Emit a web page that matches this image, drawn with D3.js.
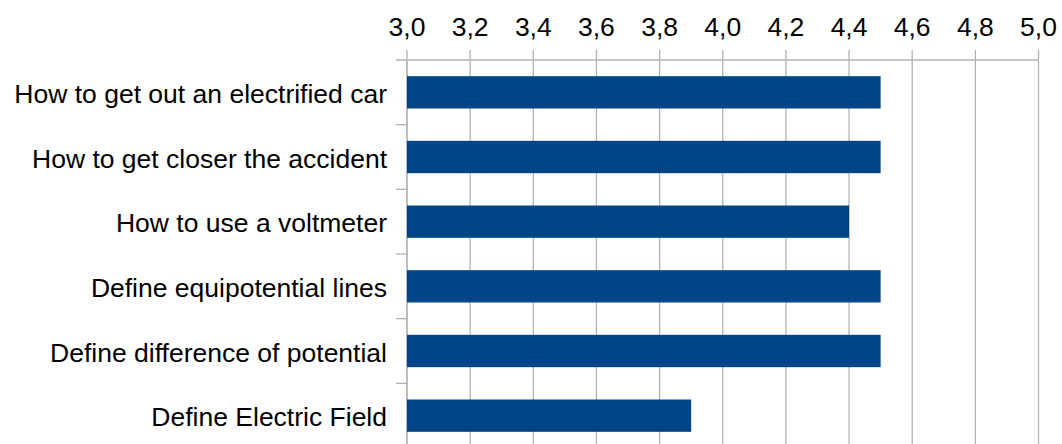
<!DOCTYPE html>
<html><head><meta charset="utf-8">
<script src="https://cdn.jsdelivr.net/npm/d3@7"></script>
<style>body{margin:0;background:#fff}svg{display:block}text{font-family:"Liberation Sans",Arial,sans-serif;fill:#000}</style>
</head><body>
<svg id="c" width="1062" height="444"></svg>
<script>
const categories = ["How to get out an electrified car","How to get closer the accident","How to use a voltmeter","Define equipotential lines","Define difference of potential","Define Electric Field"];
const values = [4.5, 4.5, 4.4, 4.5, 4.5, 3.9];
const tickValues = [3.0,3.2,3.4,3.6,3.8,4.0,4.2,4.4,4.6,4.8,5.0];

(function(){
const svg = d3.select("#c");
const pL = 407, pR = 1038.5, pT = 60, pB = 448;
const x = d3.scaleLinear().domain([3,5]).range([pL,pR]);
const y = d3.scaleBand().domain(categories).range([pT,pB]).paddingInner(0.5).paddingOuter(0.25);
const yb = d3.scaleBand().domain(categories).range([pT,pB]);
const grid = "#b3b3b3";

svg.append("g").selectAll("line").data(tickValues).join("line")
  .attr("x1",d=>x(d)).attr("x2",d=>x(d)).attr("y1",pT-10).attr("y2",pB)
  .attr("stroke",grid).attr("stroke-width",1.3);

svg.append("line").attr("x1",pL-11).attr("x2",pR).attr("y1",pT).attr("y2",pT).attr("stroke",grid).attr("stroke-width",1.3);
svg.append("line").attr("x1",pL).attr("x2",pL).attr("y1",pT).attr("y2",pB).attr("stroke",grid).attr("stroke-width",1.3);
svg.append("g").selectAll("line").data(categories.slice(1)).join("line")
  .attr("x1",pL-11).attr("x2",pL).attr("y1",d=>yb(d)).attr("y2",d=>yb(d))
  .attr("stroke",grid).attr("stroke-width",1.3);

const fmt = d=>d3.format(".1f")(d).replace(".",",");
svg.append("g").selectAll("text").data(tickValues).join("text")
  .attr("x",d=>x(d)).attr("y",36).attr("text-anchor","middle")
  .style("font-size","26.5px").text(fmt);

svg.append("g").selectAll("rect").data(values).join("rect")
  .attr("x",x(3)).attr("y",(d,i)=>y(categories[i]))
  .attr("width",d=>x(d)-x(3)).attr("height",y.bandwidth())
  .attr("fill","#004586");

svg.append("g").selectAll("text").data(categories).join("text")
  .attr("x",pL-20).attr("y",d=>yb(d)+yb.bandwidth()/2).attr("dy","0.4em")
  .attr("text-anchor","end").style("font-size","26.5px").text(d=>d);
})();
</script>
</body></html>
